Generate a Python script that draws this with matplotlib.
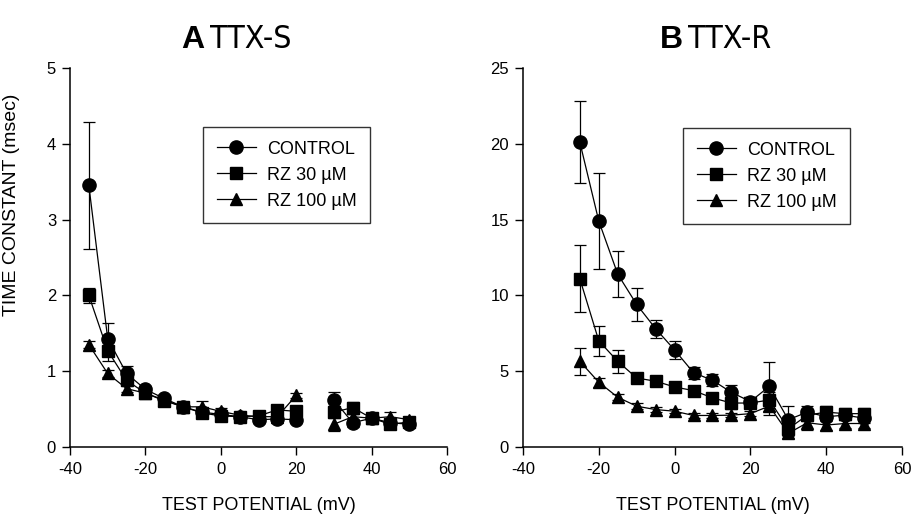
import matplotlib
matplotlib.use("Agg")
import matplotlib.pyplot as plt
import matplotlib.font_manager as fm
from matplotlib.lines import Line2D
import numpy as np

nan = np.nan

# Panel A: TTX-S
x_a = [-35, -30, -25, -20, -15, -10, -5, 0, 5, 10, 15, 20, 25, 30, 35, 40, 45, 50]
control_a = [3.45, 1.43, 0.97, 0.76, 0.64, 0.53, 0.46, 0.43, 0.40, 0.36, 0.37, 0.36, nan, 0.62, 0.32, 0.38, 0.32, 0.30]
control_a_err = [0.84, 0.20, 0.10, 0.05, 0.04, 0.03, 0.03, 0.03, 0.03, 0.02, 0.03, 0.03, nan, 0.11, 0.05, 0.03, 0.03, 0.03]
rz30_a = [2.00, 1.27, 0.88, 0.71, 0.61, 0.53, 0.45, 0.41, 0.40, 0.41, 0.49, 0.47, nan, 0.46, 0.52, 0.38, 0.30, 0.33]
rz30_a_err = [0.10, 0.14, 0.08, 0.04, 0.03, 0.03, 0.03, 0.03, 0.03, 0.03, 0.05, 0.05, nan, 0.08, 0.08, 0.03, 0.03, 0.03]
rz100_a = [1.35, 0.97, 0.77, 0.71, 0.62, 0.53, 0.53, 0.47, 0.42, 0.40, 0.40, 0.68, nan, 0.30, 0.40, 0.38, 0.40, 0.36]
rz100_a_err = [0.05, 0.04, 0.05, 0.04, 0.03, 0.03, 0.08, 0.04, 0.03, 0.03, 0.03, 0.03, nan, 0.09, 0.04, 0.03, 0.06, 0.03]

# Panel B: TTX-R
x_b = [-25, -20, -15, -10, -5, 0, 5, 10, 15, 20, 25, 30, 35, 40, 45, 50]
control_b = [20.1, 14.9, 11.4, 9.4, 7.8, 6.4, 4.9, 4.4, 3.6, 3.0, 4.0, 1.8, 2.3, 2.0, 2.1, 1.9]
control_b_err = [2.7, 3.15, 1.5, 1.1, 0.6, 0.6, 0.4, 0.4, 0.5, 0.3, 1.6, 0.9, 0.4, 0.3, 0.3, 0.3]
rz30_b = [11.1, 7.0, 5.65, 4.55, 4.34, 3.96, 3.72, 3.24, 2.9, 2.9, 3.1, 1.2, 2.1, 2.3, 2.2, 2.2]
rz30_b_err = [2.2, 1.0, 0.75, 0.3, 0.3, 0.3, 0.3, 0.3, 0.4, 0.3, 0.5, 0.5, 0.4, 0.4, 0.4, 0.4]
rz100_b = [5.65, 4.27, 3.28, 2.69, 2.47, 2.36, 2.08, 2.08, 2.1, 2.2, 2.7, 0.9, 1.6, 1.45, 1.55, 1.55]
rz100_b_err = [0.9, 0.3, 0.2, 0.2, 0.15, 0.15, 0.15, 0.15, 0.15, 0.15, 0.6, 0.3, 0.5, 0.3, 0.3, 0.3]

labels = ["CONTROL", "RZ 30 \u00b5M", "RZ 100 \u00b5M"]
markers = ["o", "s", "^"]
msizes = [9.5, 8, 9]

plt.rcParams["font.family"] = ["Liberation Sans", "DejaVu Sans"]
plt.rcParams["axes.unicode_minus"] = False


def find_narrow_font():
    # look for any condensed / narrow sans face installed
    for f in fm.fontManager.ttflist:
        name = (f.name + " " + f.fname).lower()
        if ("narrow" in name or "condensed" in name) and "bold" not in name \
                and "oblique" not in name and "italic" not in name and "mono" not in name:
            return fm.FontProperties(fname=f.fname, size=23)
    return fm.FontProperties(family="Liberation Sans", size=23)


narrow_fp = find_narrow_font()

fig = plt.figure(figsize=(9.12, 5.19), dpi=100)
ax_a = fig.add_axes([70 / 912, 72 / 519, 377 / 912, 379 / 519])
ax_b = fig.add_axes([523 / 912, 72 / 519, 379 / 912, 379 / 519])


def draw_panel(ax, x, series, ymax, yticks):
    for (y, err), m, ms in zip(series, markers, msizes):
        ax.errorbar(x, y, yerr=err, color="black", marker=m, markersize=ms,
                    linewidth=0.9, elinewidth=0.9, capsize=4, capthick=0.9)
    ax.set_xlim(-40, 60)
    ax.set_ylim(0, ymax)
    ax.set_xticks([-40, -20, 0, 20, 40, 60])
    ax.set_yticks(yticks)
    ax.spines["top"].set_visible(False)
    ax.spines["right"].set_visible(False)
    for s in ("left", "bottom"):
        ax.spines[s].set_linewidth(1.1)
    ax.tick_params(axis="both", direction="out", labelsize=12, width=1.0)
    ax.tick_params(axis="x", length=6, pad=5)
    ax.tick_params(axis="y", length=6, pad=4)
    ax.set_xlabel("TEST POTENTIAL (mV)", fontsize=13, labelpad=14)


draw_panel(ax_a, x_a, [(control_a, control_a_err), (rz30_a, rz30_a_err),
                       (rz100_a, rz100_a_err)], 5, [0, 1, 2, 3, 4, 5])
draw_panel(ax_b, x_b, [(control_b, control_b_err), (rz30_b, rz30_b_err),
                       (rz100_b, rz100_b_err)], 25, [0, 5, 10, 15, 20, 25])

ax_a.set_ylabel("TIME CONSTANT (msec)", fontsize=14)
ax_a.yaxis.set_label_coords(-50 / 377, (447 - 205) / 379)

handles = [Line2D([], [], color="black", marker=m, markersize=ms, linewidth=0.9)
           for m, ms in zip(markers, msizes)]

for ax, anchor in ((ax_a, (203 / 912, 1 - 127 / 519)), (ax_b, (683 / 912, 1 - 128 / 519))):
    leg = ax.legend(handles, labels, loc="upper left", bbox_to_anchor=anchor,
                    bbox_transform=fig.transFigure, borderaxespad=0,
                    fontsize=13, frameon=True, fancybox=False, handlelength=2.2,
                    labelspacing=0.5, borderpad=0.75, handletextpad=0.6)
    leg.get_frame().set_edgecolor("black")
    leg.get_frame().set_linewidth(1.0)

# panel titles
fig.text(181 / 912, 1 - 48 / 519, "A", fontsize=23, fontweight="bold", va="baseline")
fig.text(210 / 912, 1 - 48 / 519, "TTX-S", fontproperties=narrow_fp, va="baseline")
fig.text(660 / 912, 1 - 48 / 519, "B", fontsize=23, fontweight="bold", va="baseline")
fig.text(688 / 912, 1 - 48 / 519, "TTX-R", fontproperties=narrow_fp, va="baseline")

fig.savefig("out.png", dpi=100, facecolor="white")
